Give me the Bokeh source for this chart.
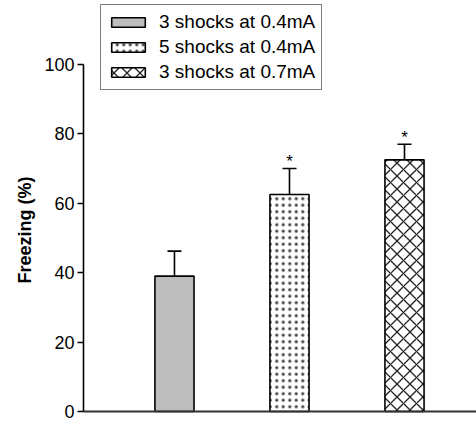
from bokeh.plotting import figure
from bokeh.models import Range1d, ColumnDataSource, Whisker, TeeHead, Legend, LegendItem, Title
from bokeh.core.properties import value
from bokeh.embed import file_html
from bokeh.resources import INLINE

groups = ["3 shocks at 0.4mA", "5 shocks at 0.4mA", "3 shocks at 0.7mA"]
freezing = [39, 62.5, 72.5]
sem = [7.2, 7.5, 4.5]
sig = ["", "*", "*"]
yticks = [0, 20, 40, 60, 80, 100]
ylabel = "Freezing (%)"

xs = [1, 2, 3]
upper = [m + e for m, e in zip(freezing, sem)]

p = figure(width=476, height=421, output_backend="svg", toolbar_location=None,
           x_range=Range1d(0.209, 3.626), y_range=Range1d(-0.58, 118.4),
           min_border_left=83, min_border_right=0, min_border_top=0, min_border_bottom=8)
p.outline_line_color = None
p.grid.visible = False
p.xaxis.visible = False
p.background_fill_color = "white"

styles = [
    dict(fill_color="#bdbdbd", hatch_pattern=None),
    dict(fill_color="white", hatch_pattern="dot", hatch_color="#444444", hatch_scale=6.5, hatch_weight=1.1),
    dict(fill_color="white", hatch_pattern="diagonal_cross", hatch_color="#222222", hatch_scale=13, hatch_weight=1.3),
]

items = []
for i in range(3):
    src = ColumnDataSource(dict(x=[xs[i]], top=[freezing[i]]))
    st = dict(styles[i])
    hp = st.pop("hatch_pattern")
    kw = dict(x="x", top="top", bottom=0, width=0.34, source=src,
              line_color="black", line_width=1.6)
    if hp:
        kw["hatch_pattern"] = hp
    r = p.vbar(**kw, **st)
    items.append(LegendItem(label=groups[i], renderers=[r]))

esrc = ColumnDataSource(dict(x=xs, lower=freezing, upper=upper, sig=sig))
w = Whisker(base="x", lower="lower", upper="upper", source=esrc, dimension="height",
            line_color="black", line_width=1.6,
            upper_head=TeeHead(size=14, line_width=1.6, line_color="black"), lower_head=None,
            level="underlay")
p.add_layout(w)

p.text(x="x", y="upper", text="sig", source=esrc, text_align="center",
       text_baseline="alphabetic", y_offset=-7, text_font_size="17px",
       text_font=value("Liberation Sans"), text_color="black")

# baseline
p.segment(x0=[0.209], y0=[0], x1=[3.626], y1=[0], line_color="#333333", line_width=2)

ax = p.yaxis[0]
ax.ticker = yticks
ax.bounds = (0, 100)
ax.axis_line_width = 1.6
ax.axis_line_color = "black"
ax.major_tick_line_width = 1.6
ax.major_tick_line_color = "black"
ax.major_tick_out = 6
ax.major_tick_in = 0
ax.minor_tick_line_color = None
ax.major_label_text_font = "Liberation Sans"
ax.major_label_text_font_size = "18px"
ax.major_label_text_color = "black"
ax.major_label_standoff = 3

p.add_layout(Title(text=ylabel, align="left", offset=130, standoff=13,
                   text_font="Liberation Sans", text_font_style="bold",
                   text_font_size="18px", text_color="black"), "left")

legend = Legend(items=items, location=(17, 323), orientation="vertical",
                glyph_width=42, glyph_height=12, label_height=12,
                label_text_font="Liberation Sans", label_text_font_size="19px",
                label_text_color="black", label_standoff=10,
                spacing=3, padding=6, margin=0,
                border_line_color="black", border_line_width=1.5,
                background_fill_color="white", background_fill_alpha=1)
p.add_layout(legend, "center")

open("out.html", "w").write(file_html(p, INLINE))
